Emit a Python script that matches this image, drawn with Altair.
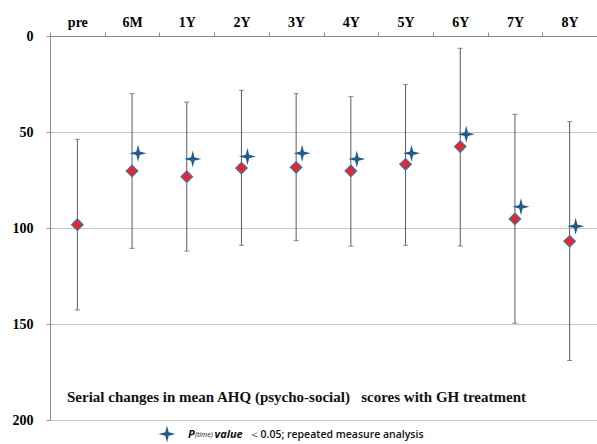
import altair as alt
import pandas as pd

cats = ["pre", "6M", "1Y", "2Y", "3Y", "4Y", "5Y", "6Y", "7Y", "8Y"]
mean_vals = [98.3, 70.3, 73.3, 68.8, 68.4, 70.3, 66.8, 57.6, 95.3, 106.9]
upper_vals = [53.8, 30.0, 34.4, 28.3, 30.0, 31.6, 25.2, 6.4, 40.8, 44.6]
lower_vals = [142.7, 110.6, 112.0, 109.0, 106.6, 109.5, 109.0, 109.4, 149.6, 169.0]
star_cats = ["6M", "1Y", "2Y", "3Y", "4Y", "5Y", "6Y", "7Y", "8Y"]
star_vals = [61.1, 64.1, 62.8, 61.1, 64.1, 61.1, 51.2, 88.9, 99.1]
y_ticks = [0, 50, 100, 150, 200]

note_text = "Serial changes in mean AHQ (psycho-social)\u00a0\u00a0 scores with GH treatment"

df = pd.DataFrame({"cat": cats, "mean": mean_vals, "hi": upper_vals, "lo": lower_vals})
sdf = pd.DataFrame({"cat": star_cats, "val": star_vals})

STAR = "M0,-1 L0.2,-0.2 L1,0 L0.2,0.2 L0,1 L-0.2,0.2 L-1,0 L-0.2,-0.2 Z"
STAR_COLOR = "#1f5b8e"
SERIF = "Liberation Serif"
W = 547

xscale = alt.Scale(domain=cats, paddingInner=0, paddingOuter=0)
yscale = alt.Scale(domain=[0, 200], reverse=True)

x_axis = alt.Axis(orient="top", title=None, labelAngle=0, tickBand="extent", tickSize=4,
                  labelPadding=3, domainColor="#8c8c8c", tickColor="#8c8c8c",
                  labelFont=SERIF, labelFontWeight="bold", labelFontSize=14,
                  labelColor="black", grid=False)
y_axis = alt.Axis(values=y_ticks, title=None, grid=True, gridColor="#c6c6c6", gridWidth=1,
                  domainColor="#8c8c8c", tickColor="#8c8c8c", tickSize=4, labelPadding=13,
                  labelFont=SERIF, labelFontWeight="bold", labelFontSize=14, labelColor="black")


def X():
    return alt.X("cat:N", scale=xscale, axis=x_axis, sort=cats)


def Y(f):
    return alt.Y(f, scale=yscale, axis=y_axis)


base = alt.Chart(df)

bars = base.mark_rule(color="#5a5a5a", strokeWidth=1).encode(
    x=X(), y=Y("hi:Q"), y2="lo:Q",
)
cap_hi = base.mark_tick(color="#5a5a5a", thickness=1, size=5).encode(x=X(), y=Y("hi:Q"))
cap_lo = base.mark_tick(color="#5a5a5a", thickness=1, size=5).encode(x=X(), y=Y("lo:Q"))
diamonds = base.mark_point(shape="diamond", filled=True, fill="#e8242c", stroke="#4d6f9e",
                           strokeWidth=1.3, opacity=1, size=130).encode(x=X(), y=Y("mean:Q"))
stars = alt.Chart(sdf).mark_point(shape=STAR, filled=True, color=STAR_COLOR, opacity=1,
                                  size=290).encode(
    x=X(),
    xOffset=alt.value(W / len(cats) / 2 + 6),
    y=Y("val:Q"),
)

note = alt.Chart(pd.DataFrame({"t": [note_text]})).mark_text(
    align="left", baseline="middle", font=SERIF, fontWeight="bold", fontSize=15, color="#111"
).encode(x=alt.value(17), y=alt.value(361), text="t:N")

leg_star = alt.Chart(pd.DataFrame({"k": [1]})).mark_point(
    shape=STAR, filled=True, color=STAR_COLOR, opacity=1, size=290
).encode(x=alt.value(117), y=alt.value(398))

SANS = "Open Sans"
leg_parts = [
    ("P", 138, 11, "bold", "italic"),
    ("(time)", 145, 7, "normal", "italic"),
    ("value", 164.5, 11, "bold", "italic"),
    ("\uff1c", 198.5, 11, "normal", "normal"),
    ("0.05; repeated measure analysis", 210.5, 10.5, 600, "normal"),
]
leg_layers = []
for txt, xp, fs, fw, st in leg_parts:
    leg_layers.append(
        alt.Chart(pd.DataFrame({"t": [txt]})).mark_text(
            align="left", baseline="middle", font=SANS, fontSize=fs, fontWeight=fw,
            fontStyle=st, color="#111"
        ).encode(x=alt.value(xp), y=alt.value(399), text="t:N")
    )

chart = alt.layer(bars, cap_hi, cap_lo, diamonds, stars, note, leg_star, *leg_layers).properties(
    width=W, height=384,
    autosize=alt.AutoSizeParams(type="none"),
    padding={"left": 50, "top": 36, "right": 0, "bottom": 24},
    background="white",
).configure_view(stroke=None)

chart.save("out.html", embed_options={"renderer": "svg", "actions": False})
